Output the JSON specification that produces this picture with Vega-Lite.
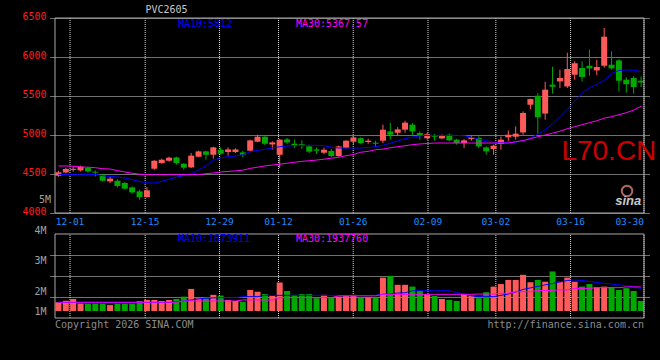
{
"$schema":"https://vega.github.io/schema/vega-lite/v6.json",
"width":599,"height":300,
"autosize":{"type":"none"},
"padding":{"left":50,"top":18,"right":11,"bottom":42},
"background":"#000000",
"config":{"view":{"stroke":null},"font":"DejaVu Sans Mono"},
"datasets":{
"k":[
{"i":0,"o":4478,"h":4542,"l":4465,"c":4523,"v":1340000,"m10":4495,"m30":4603,"vm10":1330000,"vm30":1340000},
{"i":1,"o":4520,"h":4581,"l":4510,"c":4564,"v":1400000,"m10":4495,"m30":4603,"vm10":1330000,"vm30":1340000},
{"i":2,"o":4553,"h":4597,"l":4529,"c":4566,"v":1470000,"m10":4495,"m30":4600,"vm10":1330000,"vm30":1340000},
{"i":3,"o":4546,"h":4606,"l":4533,"c":4594,"v":1290000,"m10":4495,"m30":4590,"vm10":1330000,"vm30":1340000},
{"i":4,"o":4577,"h":4594,"l":4517,"c":4533,"v":1290000,"m10":4495,"m30":4587,"vm10":1330000,"vm30":1340000},
{"i":5,"o":4529,"h":4546,"l":4469,"c":4517,"v":1290000,"m10":4495,"m30":4581,"vm10":1330000,"vm30":1340000},
{"i":6,"o":4491,"h":4504,"l":4401,"c":4414,"v":1290000,"m10":4478,"m30":4568,"vm10":1330000,"vm30":1340000},
{"i":7,"o":4405,"h":4462,"l":4385,"c":4440,"v":1230000,"m10":4469,"m30":4564,"vm10":1330000,"vm30":1340000},
{"i":8,"o":4414,"h":4431,"l":4328,"c":4346,"v":1290000,"m10":4462,"m30":4542,"vm10":1330000,"vm30":1340000},
{"i":9,"o":4385,"h":4397,"l":4299,"c":4312,"v":1290000,"m10":4449,"m30":4526,"vm10":1330000,"vm30":1340000},
{"i":10,"o":4328,"h":4341,"l":4251,"c":4264,"v":1290000,"m10":4427,"m30":4510,"vm10":1330000,"vm30":1340000},
{"i":11,"o":4277,"h":4299,"l":4171,"c":4205,"v":1390000,"m10":4405,"m30":4497,"vm10":1330000,"vm30":1340000},
{"i":12,"o":4205,"h":4333,"l":4196,"c":4290,"v":1430000,"m10":4385,"m30":4491,"vm10":1330000,"vm30":1340000},
{"i":13,"o":4568,"h":4677,"l":4555,"c":4670,"v":1430000,"m10":4385,"m30":4491,"vm10":1330000,"vm30":1340000},
{"i":14,"o":4641,"h":4696,"l":4632,"c":4683,"v":1390000,"m10":4405,"m30":4491,"vm10":1330000,"vm30":1340000},
{"i":15,"o":4670,"h":4722,"l":4658,"c":4709,"v":1430000,"m10":4433,"m30":4491,"vm10":1330000,"vm30":1340000},
{"i":16,"o":4713,"h":4722,"l":4619,"c":4641,"v":1470000,"m10":4459,"m30":4491,"vm10":1360000,"vm30":1340000},
{"i":17,"o":4632,"h":4641,"l":4555,"c":4581,"v":1560000,"m10":4481,"m30":4491,"vm10":1390000,"vm30":1390000},
{"i":18,"o":4585,"h":4769,"l":4577,"c":4735,"v":1860000,"m10":4506,"m30":4491,"vm10":1430000,"vm30":1390000},
{"i":19,"o":4722,"h":4799,"l":4718,"c":4790,"v":1500000,"m10":4549,"m30":4491,"vm10":1470000,"vm30":1390000},
{"i":20,"o":4790,"h":4799,"l":4683,"c":4747,"v":1500000,"m10":4606,"m30":4504,"vm10":1500000,"vm30":1390000},
{"i":21,"o":4747,"h":4850,"l":4696,"c":4841,"v":1630000,"m10":4676,"m30":4513,"vm10":1510000,"vm30":1390000},
{"i":22,"o":4811,"h":4841,"l":4747,"c":4760,"v":1600000,"m10":4709,"m30":4526,"vm10":1520000,"vm30":1390000},
{"i":23,"o":4782,"h":4841,"l":4735,"c":4815,"v":1430000,"m10":4722,"m30":4533,"vm10":1520000,"vm30":1390000},
{"i":24,"o":4782,"h":4828,"l":4769,"c":4815,"v":1390000,"m10":4731,"m30":4540,"vm10":1520000,"vm30":1390000},
{"i":25,"o":4777,"h":4799,"l":4713,"c":4747,"v":1360000,"m10":4747,"m30":4549,"vm10":1560000,"vm30":1430000},
{"i":26,"o":4799,"h":4940,"l":4790,"c":4931,"v":1820000,"m10":4786,"m30":4572,"vm10":1560000,"vm30":1430000},
{"i":27,"o":4914,"h":5004,"l":4910,"c":4978,"v":1750000,"m10":4803,"m30":4587,"vm10":1560000,"vm30":1430000},
{"i":28,"o":4978,"h":4985,"l":4867,"c":4888,"v":1660000,"m10":4818,"m30":4603,"vm10":1610000,"vm30":1430000},
{"i":29,"o":4879,"h":4918,"l":4812,"c":4905,"v":1590000,"m10":4833,"m30":4615,"vm10":1610000,"vm30":1430000},
{"i":30,"o":4747,"h":4946,"l":4577,"c":4940,"v":2110000,"m10":4850,"m30":4626,"vm10":1610000,"vm30":1520000},
{"i":31,"o":4944,"h":4962,"l":4885,"c":4905,"v":1780000,"m10":4859,"m30":4638,"vm10":1610000,"vm30":1520000},
{"i":32,"o":4888,"h":4940,"l":4833,"c":4867,"v":1630000,"m10":4863,"m30":4651,"vm10":1610000,"vm30":1520000},
{"i":33,"o":4882,"h":4931,"l":4820,"c":4869,"v":1660000,"m10":4867,"m30":4662,"vm10":1610000,"vm30":1520000},
{"i":34,"o":4854,"h":4876,"l":4769,"c":4786,"v":1660000,"m10":4867,"m30":4670,"vm10":1610000,"vm30":1520000},
{"i":35,"o":4815,"h":4841,"l":4756,"c":4799,"v":1500000,"m10":4867,"m30":4679,"vm10":1610000,"vm30":1520000},
{"i":36,"o":4773,"h":4837,"l":4756,"c":4811,"v":1630000,"m10":4863,"m30":4690,"vm10":1610000,"vm30":1520000},
{"i":37,"o":4795,"h":4820,"l":4718,"c":4731,"v":1520000,"m10":4844,"m30":4703,"vm10":1610000,"vm30":1520000},
{"i":38,"o":4731,"h":4863,"l":4722,"c":4854,"v":1560000,"m10":4833,"m30":4715,"vm10":1600000,"vm30":1590000},
{"i":39,"o":4833,"h":4933,"l":4824,"c":4927,"v":1600000,"m10":4833,"m30":4735,"vm10":1600000,"vm30":1590000},
{"i":40,"o":4914,"h":4997,"l":4882,"c":4969,"v":1630000,"m10":4833,"m30":4750,"vm10":1600000,"vm30":1590000},
{"i":41,"o":4959,"h":4972,"l":4882,"c":4897,"v":1520000,"m10":4833,"m30":4779,"vm10":1600000,"vm30":1590000},
{"i":42,"o":4910,"h":4953,"l":4888,"c":4927,"v":1520000,"m10":4840,"m30":4790,"vm10":1600000,"vm30":1590000},
{"i":43,"o":4901,"h":4927,"l":4850,"c":4888,"v":1520000,"m10":4850,"m30":4812,"vm10":1610000,"vm30":1590000},
{"i":44,"o":4927,"h":5132,"l":4897,"c":5068,"v":2300000,"m10":4869,"m30":4818,"vm10":1650000,"vm30":1650000},
{"i":45,"o":5046,"h":5154,"l":4940,"c":5004,"v":2370000,"m10":4895,"m30":4837,"vm10":1660000,"vm30":1650000},
{"i":46,"o":5029,"h":5100,"l":4991,"c":5072,"v":2020000,"m10":4923,"m30":4850,"vm10":1700000,"vm30":1650000},
{"i":47,"o":5068,"h":5183,"l":5029,"c":5158,"v":2020000,"m10":4953,"m30":4863,"vm10":1710000,"vm30":1650000},
{"i":48,"o":5132,"h":5154,"l":4991,"c":5046,"v":1950000,"m10":4974,"m30":4876,"vm10":1790000,"vm30":1650000},
{"i":49,"o":5026,"h":5046,"l":4940,"c":4987,"v":1790000,"m10":4988,"m30":4885,"vm10":1790000,"vm30":1650000},
{"i":50,"o":4959,"h":5030,"l":4940,"c":5010,"v":1650000,"m10":4995,"m30":4891,"vm10":1790000,"vm30":1650000},
{"i":51,"o":4995,"h":5013,"l":4927,"c":4978,"v":1590000,"m10":4995,"m30":4897,"vm10":1790000,"vm30":1650000},
{"i":52,"o":4956,"h":5008,"l":4949,"c":4991,"v":1470000,"m10":4995,"m30":4897,"vm10":1790000,"vm30":1650000},
{"i":53,"o":5004,"h":5017,"l":4920,"c":4931,"v":1430000,"m10":4995,"m30":4897,"vm10":1790000,"vm30":1650000},
{"i":54,"o":4940,"h":4953,"l":4876,"c":4897,"v":1390000,"m10":4995,"m30":4897,"vm10":1720000,"vm30":1650000},
{"i":55,"o":4897,"h":4946,"l":4833,"c":4931,"v":1650000,"m10":4991,"m30":4897,"vm10":1660000,"vm30":1650000},
{"i":56,"o":4949,"h":4991,"l":4927,"c":4969,"v":1590000,"m10":4972,"m30":4897,"vm10":1590000,"vm30":1650000},
{"i":57,"o":4962,"h":4982,"l":4833,"c":4854,"v":1500000,"m10":4946,"m30":4897,"vm10":1560000,"vm30":1660000},
{"i":58,"o":4841,"h":4854,"l":4747,"c":4790,"v":1730000,"m10":4927,"m30":4897,"vm10":1560000,"vm30":1660000},
{"i":59,"o":4820,"h":4876,"l":4747,"c":4863,"v":1950000,"m10":4910,"m30":4897,"vm10":1560000,"vm30":1660000},
{"i":60,"o":4885,"h":4982,"l":4812,"c":4940,"v":2050000,"m10":4901,"m30":4897,"vm10":1610000,"vm30":1690000},
{"i":61,"o":4969,"h":5059,"l":4918,"c":5004,"v":2210000,"m10":4901,"m30":4897,"vm10":1660000,"vm30":1690000},
{"i":62,"o":4978,"h":5110,"l":4940,"c":5017,"v":2210000,"m10":4908,"m30":4914,"vm10":1740000,"vm30":1750000},
{"i":63,"o":5033,"h":5303,"l":5004,"c":5282,"v":2410000,"m10":4927,"m30":4927,"vm10":1840000,"vm30":1750000},
{"i":64,"o":5388,"h":5465,"l":5331,"c":5461,"v":2120000,"m10":4962,"m30":4953,"vm10":1900000,"vm30":1750000},
{"i":65,"o":5504,"h":5538,"l":5017,"c":5228,"v":2210000,"m10":5010,"m30":4978,"vm10":1960000,"vm30":1800000},
{"i":66,"o":5275,"h":5683,"l":5196,"c":5581,"v":2140000,"m10":5068,"m30":5000,"vm10":2020000,"vm30":1800000},
{"i":67,"o":5645,"h":5876,"l":5529,"c":5619,"v":2540000,"m10":5145,"m30":5023,"vm10":2070000,"vm30":1800000},
{"i":68,"o":5687,"h":5837,"l":5603,"c":5731,"v":2140000,"m10":5235,"m30":5049,"vm10":2130000,"vm30":1820000},
{"i":69,"o":5623,"h":6055,"l":5603,"c":5846,"v":2300000,"m10":5331,"m30":5081,"vm10":2190000,"vm30":1820000},
{"i":70,"o":5773,"h":5944,"l":5709,"c":5920,"v":2140000,"m10":5433,"m30":5106,"vm10":2210000,"vm30":1880000},
{"i":71,"o":5859,"h":5944,"l":5687,"c":5744,"v":1950000,"m10":5536,"m30":5132,"vm10":2190000,"vm30":1880000},
{"i":72,"o":5888,"h":6094,"l":5760,"c":5854,"v":2050000,"m10":5606,"m30":5158,"vm10":2150000,"vm30":1880000},
{"i":73,"o":5828,"h":5965,"l":5767,"c":5872,"v":1930000,"m10":5651,"m30":5183,"vm10":2110000,"vm30":1910000},
{"i":74,"o":5888,"h":6372,"l":5863,"c":6260,"v":1950000,"m10":5700,"m30":5215,"vm10":2080000,"vm30":1910000},
{"i":75,"o":5901,"h":6072,"l":5837,"c":5854,"v":1930000,"m10":5786,"m30":5235,"vm10":2050000,"vm30":1910000},
{"i":76,"o":5956,"h":5972,"l":5559,"c":5696,"v":1820000,"m10":5828,"m30":5260,"vm10":2020000,"vm30":1910000},
{"i":77,"o":5709,"h":5741,"l":5542,"c":5651,"v":1890000,"m10":5833,"m30":5286,"vm10":1980000,"vm30":1938000},
{"i":78,"o":5731,"h":5754,"l":5529,"c":5615,"v":1780000,"m10":5831,"m30":5318,"vm10":1940000,"vm30":1938000},
{"i":79,"o":5696,"h":5751,"l":5615,"c":5674,"v":1390000,"m10":5812,"m30":5368,"vm10":1874000,"vm30":1938000}
],
"ticks":[{"t":1.57,"d":"12-01"},{"t":11.76,"d":"12-15"},{"t":21.84,"d":"12-29"},{"t":29.84,"d":"01-12"},{"t":39.97,"d":"01-26"},{"t":50.11,"d":"02-09"},{"t":59.31,"d":"03-02"},{"t":69.44,"d":"03-16"},{"t":79.4,"d":"03-30"}]
},
"layer":[
{"data":{"name":"ticks"},"mark":{"type":"rule","color":"#d8d8d8","strokeDash":[1,1],"strokeWidth":1},
 "encoding":{"x":{"field":"t","type":"quantitative","scale":{"domain":[-0.467,79.4],"nice":false,"zero":false},"axis":null},
  "y":{"datum":4000,"scale":{"domain":[2654,6500],"nice":false,"zero":false},"axis":null},"y2":{"datum":6500}}},
{"data":{"name":"ticks"},"mark":{"type":"rule","color":"#d8d8d8","strokeDash":[1,1],"strokeWidth":1},
 "encoding":{"x":{"field":"t","type":"quantitative","scale":{"domain":[-0.467,79.4],"nice":false,"zero":false},"axis":null},
  "y":{"datum":727300,"scale":{"domain":[727300,12415000],"nice":false,"zero":false},"axis":null},"y2":{"datum":4000000}}},
{"data":{"name":"ticks"},"transform":[{"filter":"datum.t < 79"}],"mark":{"type":"text","align":"center","baseline":"top","font":"DejaVu Sans Mono","fontSize":9.5,"color":"#1a8cff"},
 "encoding":{"x":{"field":"t","type":"quantitative","scale":{"domain":[-0.467,79.4],"nice":false,"zero":false},"axis":null},
  "y":{"datum":3955,"scale":{"domain":[2654,6500],"nice":false,"zero":false},"axis":null},"text":{"field":"d"}}},
{"data":{"name":"ticks"},"transform":[{"filter":"datum.t >= 79"}],"mark":{"type":"text","align":"right","baseline":"top","font":"DejaVu Sans Mono","fontSize":9.5,"color":"#1a8cff"},
 "encoding":{"x":{"field":"t","type":"quantitative","scale":{"domain":[-0.467,79.4],"nice":false,"zero":false},"axis":null},
  "y":{"datum":3955,"scale":{"domain":[2654,6500],"nice":false,"zero":false},"axis":null},"text":{"field":"d"}}},
{"data":{"name":"k"},"mark":{"type":"rule","strokeWidth":1},
 "encoding":{"x":{"field":"i","type":"quantitative","scale":{"domain":[-0.467,79.4],"nice":false,"zero":false},"axis":null},
  "y":{"field":"l","type":"quantitative","scale":{"domain":[2654,6500],"nice":false,"zero":false},
   "axis":{"orient":"left","values":[4000,4500,5000,5500,6000,6500],"format":"d","title":null,"domain":false,"ticks":false,"grid":true,"gridColor":"#e0e0e0","gridDash":[1,1],"labelColor":"#ff1e1e","labelFont":"DejaVu Sans Mono","labelFontSize":10,"labelPadding":4,"labelBaseline":"alphabetic","labelOffset":1.5,"labelOverlap":false,"labelBound":false,"labelFlush":false}},
  "y2":{"field":"h"},
  "color":{"condition":{"test":"datum.c >= datum.o","value":"#ff5a5a"},"value":"#00a800"}}},
{"data":{"name":"k"},"mark":{"type":"bar","width":6},
 "encoding":{"x":{"field":"i","type":"quantitative","scale":{"domain":[-0.467,79.4],"nice":false,"zero":false},"axis":null},
  "y":{"field":"o","type":"quantitative","scale":{"domain":[2654,6500],"nice":false,"zero":false},"axis":null},
  "y2":{"field":"c"},
  "color":{"condition":{"test":"datum.c >= datum.o","value":"#ff5a5a"},"value":"#00a800"}}},
{"data":{"name":"k"},"mark":{"type":"line","color":"#0000ff","strokeWidth":1},
 "encoding":{"x":{"field":"i","type":"quantitative","scale":{"domain":[-0.467,79.4],"nice":false,"zero":false},"axis":null},
  "y":{"field":"m10","type":"quantitative","scale":{"domain":[2654,6500],"nice":false,"zero":false},"axis":null}}},
{"data":{"name":"k"},"mark":{"type":"line","color":"#ff00ff","strokeWidth":1},
 "encoding":{"x":{"field":"i","type":"quantitative","scale":{"domain":[-0.467,79.4],"nice":false,"zero":false},"axis":null},
  "y":{"field":"m30","type":"quantitative","scale":{"domain":[2654,6500],"nice":false,"zero":false},"axis":null}}},
{"data":{"name":"k"},"mark":{"type":"bar","width":6},
 "encoding":{"x":{"field":"i","type":"quantitative","scale":{"domain":[-0.467,79.4],"nice":false,"zero":false},"axis":null},
  "y":{"field":"v","type":"quantitative","scale":{"domain":[727300,12415000],"nice":false,"zero":false},
   "axis":{"orient":"left","values":[871000,1662000,2858000,4000000],"labelExpr":"datum.value < 1200000 ? '1M' : datum.value < 2200000 ? '2M' : datum.value < 3500000 ? '3M' : '4M'","title":null,"domain":false,"ticks":false,"grid":false,"labelColor":"#a0a0a0","labelFont":"DejaVu Sans Mono","labelFontSize":10,"labelPadding":4,"labelBaseline":"alphabetic","labelOverlap":false,"labelBound":false,"labelFlush":false}},
  "y2":{"datum":1000000},
  "color":{"condition":{"test":"datum.c >= datum.o","value":"#ff5a5a"},"value":"#00a800"}}},
{"data":{"name":"k"},"mark":{"type":"line","color":"#0000ff","strokeWidth":1},
 "encoding":{"x":{"field":"i","type":"quantitative","scale":{"domain":[-0.467,79.4],"nice":false,"zero":false},"axis":null},
  "y":{"field":"vm10","type":"quantitative","scale":{"domain":[727300,12415000],"nice":false,"zero":false},
   "axis":{"orient":"left","values":[1545000,2364000,3182000],"labels":false,"ticks":false,"domain":false,"grid":true,"gridColor":"#e0e0e0","gridDash":[1,1],"title":null}}}},
{"data":{"name":"k"},"mark":{"type":"line","color":"#ff00ff","strokeWidth":1},
 "encoding":{"x":{"field":"i","type":"quantitative","scale":{"domain":[-0.467,79.4],"nice":false,"zero":false},"axis":null},
  "y":{"field":"vm30","type":"quantitative","scale":{"domain":[727300,12415000],"nice":false,"zero":false},"axis":null}}},
{"data":{"name":"k"},"transform":[{"filter":"datum.i == 0"}],"mark":{"type":"rect","fillOpacity":0,"stroke":"#a8a8a8","strokeWidth":1},
 "encoding":{"x":{"datum":-0.467,"scale":{"domain":[-0.467,79.4],"nice":false,"zero":false},"axis":null},"x2":{"datum":79.4},
  "y":{"datum":4000,"scale":{"domain":[2654,6500],"nice":false,"zero":false},"axis":null},"y2":{"datum":6500}}},
{"data":{"name":"k"},"transform":[{"filter":"datum.i == 0"}],"mark":{"type":"rect","fillOpacity":0,"stroke":"#a8a8a8","strokeWidth":1},
 "encoding":{"x":{"datum":-0.467,"scale":{"domain":[-0.467,79.4],"nice":false,"zero":false},"axis":null},"x2":{"datum":79.4},
  "y":{"datum":727300,"scale":{"domain":[727300,12415000],"nice":false,"zero":false},"axis":null},"y2":{"datum":4000000}}},
{"data":{"values":[{"a":1}]},"mark":{"type":"text","align":"left","baseline":"alphabetic","font":"DejaVu Sans Mono","fontSize":10,"color":"#0000ff"},
 "encoding":{"x":{"datum":16.2,"scale":{"domain":[-0.467,79.4],"nice":false,"zero":false},"axis":null},"y":{"datum":6388,"scale":{"domain":[2654,6500],"nice":false,"zero":false},"axis":null},"text":{"value":"MA10:5812"}}},
{"data":{"values":[{"a":1}]},"mark":{"type":"text","align":"left","baseline":"alphabetic","font":"DejaVu Sans Mono","fontSize":10,"color":"#ff00ff"},
 "encoding":{"x":{"datum":32.2,"scale":{"domain":[-0.467,79.4],"nice":false,"zero":false},"axis":null},"y":{"datum":6388,"scale":{"domain":[2654,6500],"nice":false,"zero":false},"axis":null},"text":{"value":"MA30:5367.57"}}},
{"data":{"values":[{"a":1}]},"mark":{"type":"text","align":"left","baseline":"alphabetic","font":"DejaVu Sans Mono","fontSize":10,"color":"#0000ff"},
 "encoding":{"x":{"datum":16.2,"scale":{"domain":[-0.467,79.4],"nice":false,"zero":false},"axis":null},"y":{"datum":3700000,"scale":{"domain":[727300,12415000],"nice":false,"zero":false},"axis":null},"text":{"value":"MA10:1873911"}}},
{"data":{"values":[{"a":1}]},"mark":{"type":"text","align":"left","baseline":"alphabetic","font":"DejaVu Sans Mono","fontSize":10,"color":"#ff00ff"},
 "encoding":{"x":{"datum":32.2,"scale":{"domain":[-0.467,79.4],"nice":false,"zero":false},"axis":null},"y":{"datum":3700000,"scale":{"domain":[727300,12415000],"nice":false,"zero":false},"axis":null},"text":{"value":"MA30:1937760"}}},
{"data":{"values":[{"a":1}]},"mark":{"type":"text","align":"left","baseline":"alphabetic","font":"DejaVu Sans Mono","fontSize":10,"color":"#c8c8c8"},
 "encoding":{"x":{"datum":11.8,"scale":{"domain":[-0.467,79.4],"nice":false,"zero":false},"axis":null},"y":{"datum":6564,"scale":{"domain":[2654,6500],"nice":false,"zero":false},"axis":null},"text":{"value":"PVC2605"}}},
{"data":{"values":[{"a":1}]},"mark":{"type":"text","align":"right","baseline":"alphabetic","font":"DejaVu Sans Mono","fontSize":10,"color":"#a0a0a0"},
 "encoding":{"x":{"datum":-1.0,"scale":{"domain":[-0.467,79.4],"nice":false,"zero":false},"axis":null},"y":{"datum":4124,"scale":{"domain":[2654,6500],"nice":false,"zero":false},"axis":null},"text":{"value":"5M"}}},
{"data":{"values":[{"a":1}]},"mark":{"type":"text","align":"left","baseline":"alphabetic","font":"Liberation Sans","fontSize":28,"color":"#cc0000"},
 "encoding":{"x":{"datum":68.2,"scale":{"domain":[-0.467,79.4],"nice":false,"zero":false},"axis":null},"y":{"datum":4680,"scale":{"domain":[2654,6500],"nice":false,"zero":false},"axis":null},"text":{"value":"L70.CN"}}},
{"data":{"values":[{"a":1}]},"mark":{"type":"point","shape":"circle","size":110,"filled":false,"stroke":"#ff9090","strokeWidth":2},
 "encoding":{"x":{"datum":77.1,"scale":{"domain":[-0.467,79.4],"nice":false,"zero":false},"axis":null},"y":{"datum":4282,"scale":{"domain":[2654,6500],"nice":false,"zero":false},"axis":null}}},
{"data":{"values":[{"a":1}]},"mark":{"type":"text","align":"left","baseline":"alphabetic","font":"Liberation Sans","fontSize":13,"fontWeight":"bold","fontStyle":"italic","color":"#c8c8c8"},
 "encoding":{"x":{"datum":75.5,"scale":{"domain":[-0.467,79.4],"nice":false,"zero":false},"axis":null},"y":{"datum":4103,"scale":{"domain":[2654,6500],"nice":false,"zero":false},"axis":null},"text":{"value":"sina"}}},
{"data":{"values":[{"a":1}]},"mark":{"type":"text","align":"left","baseline":"alphabetic","font":"DejaVu Sans Mono","fontSize":10,"color":"#8c8c8c"},
 "encoding":{"x":{"datum":-0.467,"scale":{"domain":[-0.467,79.4],"nice":false,"zero":false},"axis":null},"y":{"datum":349000,"scale":{"domain":[727300,12415000],"nice":false,"zero":false},"axis":null},"text":{"value":"Copyright 2026 SINA.COM"}}},
{"data":{"values":[{"a":1}]},"mark":{"type":"text","align":"right","baseline":"alphabetic","font":"DejaVu Sans Mono","fontSize":10,"color":"#8c8c8c"},
 "encoding":{"x":{"datum":79.4,"scale":{"domain":[-0.467,79.4],"nice":false,"zero":false},"axis":null},"y":{"datum":349000,"scale":{"domain":[727300,12415000],"nice":false,"zero":false},"axis":null},"text":{"value":"http://finance.sina.com.cn"}}}
],
"resolve":{"scale":{"y":"independent"},"axis":{"y":"independent"}}
}
